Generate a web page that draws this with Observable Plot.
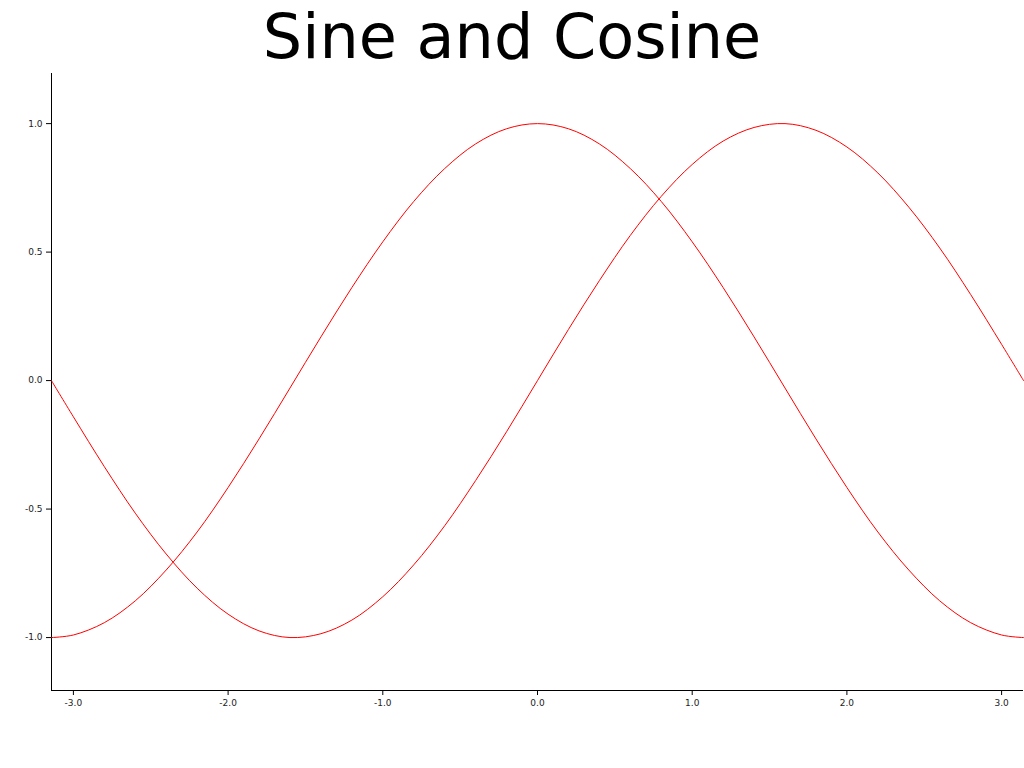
<!DOCTYPE html>
<html>
<head>
<meta charset="utf-8">
<script src="https://cdn.jsdelivr.net/npm/d3@7"></script>
<script src="https://cdn.jsdelivr.net/npm/@observablehq/plot@0.6"></script>
<style>
  html, body { margin: 0; padding: 0; background: #fff; }
  #title { height: 73px; line-height: 73px; font-family: "DejaVu Sans", sans-serif; font-size: 62px; text-align: center; color: #000; width: 1024px; }
  #chart svg { display: block; }
</style>
</head>
<body>
<div id="title">Sine and Cosine</div>
<div id="chart"></div>
<script>
const xs = [-3.142, -3.0, -2.8, -2.6, -2.4, -2.2, -2.0, -1.8, -1.6, -1.4, -1.2, -1.0, -0.8, -0.6, -0.4, -0.2,
            0.0, 0.2, 0.4, 0.6, 0.8, 1.0, 1.2, 1.4, 1.6, 1.8, 2.0, 2.2, 2.4, 2.6, 2.8, 3.0, 3.142];
const sineValues = [0.000, -0.141, -0.335, -0.516, -0.675, -0.808, -0.909, -0.974, -1.000, -0.985, -0.932, -0.841, -0.717, -0.565, -0.389, -0.199,
                    0.000, 0.199, 0.389, 0.565, 0.717, 0.841, 0.932, 0.985, 1.000, 0.974, 0.909, 0.808, 0.675, 0.516, 0.335, 0.141, 0.000];
const cosineValues = [-1.000, -0.990, -0.942, -0.857, -0.737, -0.589, -0.416, -0.227, -0.029, 0.170, 0.362, 0.540, 0.697, 0.825, 0.921, 0.980,
                      1.000, 0.980, 0.921, 0.825, 0.697, 0.540, 0.362, 0.170, -0.029, -0.227, -0.416, -0.589, -0.737, -0.857, -0.942, -0.990, -1.000];
const xTicks = [-3, -2, -1, 0, 1, 2, 3];
const yTicks = [-1, -0.5, 0, 0.5, 1];

const sine = xs.map((x, i) => ({x, y: sineValues[i]}));
const cosine = xs.map((x, i) => ({x, y: cosineValues[i]}));

const xMin = -3.1416, xMax = 3.1416;
const yMin = -1.206, yMax = 1.195;
const fmt = d => d.toFixed(1);

const chart = Plot.plot({
  width: 1024,
  height: 695,
  marginTop: 0,
  marginBottom: 78,
  marginLeft: 51,
  marginRight: 1,
  style: {fontFamily: "DejaVu Sans, sans-serif", fontSize: "9px", color: "#222", background: "#fff", overflow: "visible"},
  x: {domain: [xMin, xMax]},
  y: {domain: [yMin, yMax]},
  marks: [
    Plot.axisX({ticks: xTicks, tickFormat: fmt, tickSize: 5, tickPadding: 4, label: null, stroke: "#000"}),
    Plot.axisY({ticks: yTicks, tickFormat: fmt, tickSize: 5, tickPadding: 4, label: null, stroke: "#000"}),
    Plot.ruleX([xMin], {stroke: "#000", strokeWidth: 1}),
    Plot.ruleY([yMin], {stroke: "#000", strokeWidth: 1}),
    Plot.line(cosine, {x: "x", y: "y", stroke: "red", strokeWidth: 1, curve: "catmull-rom"}),
    Plot.line(sine, {x: "x", y: "y", stroke: "red", strokeWidth: 1, curve: "catmull-rom"})
  ]
});
document.getElementById("chart").appendChild(chart);
</script>
</body>
</html>
